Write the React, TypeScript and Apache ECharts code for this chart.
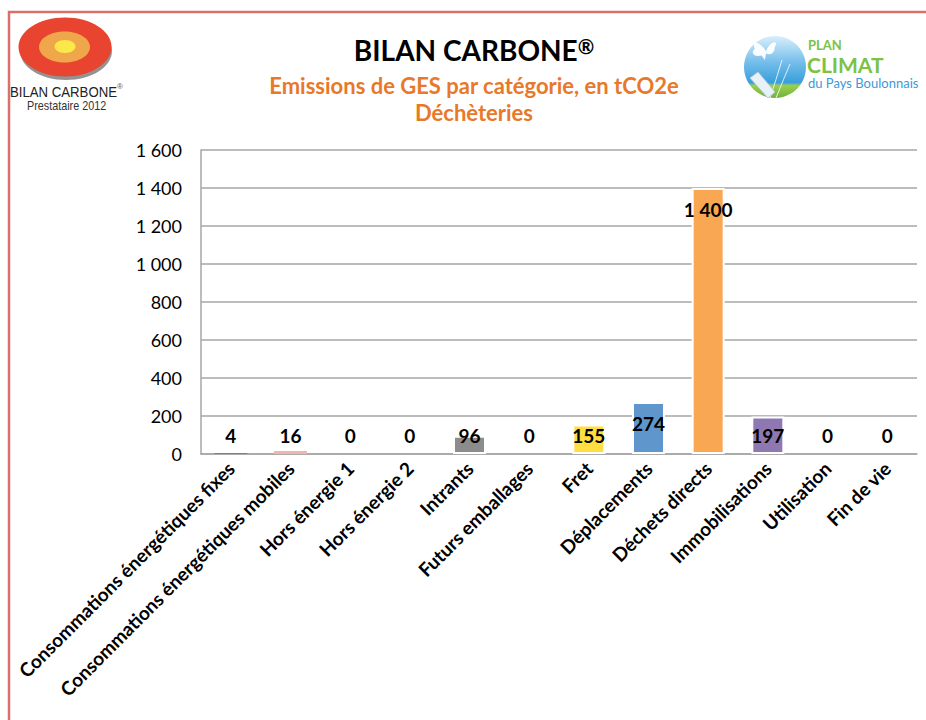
import React, { useEffect, useRef } from "react";
import * as echarts from "echarts";

const categories = [
  "Consommations énergétiques fixes",
  "Consommations énergétiques mobiles",
  "Hors énergie 1",
  "Hors énergie 2",
  "Intrants",
  "Futurs emballages",
  "Fret",
  "Déplacements",
  "Déchets directs",
  "Immobilisations",
  "Utilisation",
  "Fin de vie",
];
const values = [4, 16, 0, 0, 96, 0, 155, 274, 1400, 197, 0, 0];
const barColors = [
  "#c0504d", "#f2b5ad", "#9bbb59", "#4bacc6", "#8c8c8c", "#c6a77a",
  "#ffde40", "#5f96cc", "#f9a753", "#8f78b2", "#4f81bd", "#4f81bd",
];
const yTicks = { min: 0, max: 1600, interval: 200 };

const fmt = (v: number) => String(v).replace(/\B(?=(\d{3})+(?!\d))/g, " ");

echarts.graphic.registerShape(
  "butterfly",
  echarts.graphic.extendPath(
    "M10 12 C4 2 -4 2 0 10 C-4 12 -2 18 6 16 L9 20 L10 14 C14 16 18 14 18 8 C22 2 14 2 10 12 Z",
    {}
  )
);

export default function App() {
  const ref = useRef<HTMLDivElement>(null);
  useEffect(() => {
    if (!ref.current) return;
    const chart = echarts.init(ref.current, null, { renderer: "svg" });
    const data = values.map((v, i) => ({
      value: v,
      itemStyle: {
        color: barColors[i],
        borderColor: "#ffffff",
        borderWidth: v > 50 ? 2 : 0,
      },
      label:
        v >= 250
          ? { position: "insideTop", distance: 12 }
          : { position: "insideBottom", distance: 9 },
    }));
    chart.setOption({
      animation: false,
      backgroundColor: "#ffffff",
      grid: { left: 201, right: 9, top: 150, bottom: 266 },
      xAxis: {
        type: "category",
        data: categories,
        axisLine: { show: true, lineStyle: { color: "#a6a6a6", width: 1.5 } },
        axisTick: { show: false },
        axisLabel: {
          interval: 0,
          rotate: 45,
          margin: 11,
          color: "#000",
          fontFamily: "Lato",
          fontWeight: "bold",
          fontSize: 19,
        },
      },
      yAxis: {
        type: "value",
        min: yTicks.min,
        max: yTicks.max,
        interval: yTicks.interval,
        axisLine: { show: true, lineStyle: { color: "#a6a6a6", width: 1.5 } },
        axisTick: { show: false },
        splitLine: { lineStyle: { color: "#a6a6a6", width: 1.5 } },
        axisLabel: {
          color: "#000",
          fontFamily: "Lato",
          fontSize: 18,
          margin: 19,
          formatter: (v: number) => fmt(v),
        },
      },
      series: [
        {
          type: "bar",
          data,
          barWidth: 33,
          label: {
            show: true,
            color: "#000",
            fontFamily: "Lato",
            fontWeight: "bold",
            fontSize: 19,
            formatter: (p: any) => fmt(p.value),
          },
        },
      ],
      graphic: [
        {
          type: "rect",
          shape: { x: 9, y: 12, width: 1000, height: 1000 },
          style: { fill: "none", stroke: "#d9706b", lineWidth: 2.5 },
          silent: true,
        },
        // Bilan Carbone logo
        {
          type: "ellipse",
          shape: { cx: 66, cy: 51, rx: 46, ry: 29 },
          style: { fill: "#3a3a3a", opacity: 0.55 },
        },
        {
          type: "ellipse",
          shape: { cx: 65, cy: 47, rx: 46.5, ry: 29.5 },
          style: { fill: "#e8442f" },
        },
        {
          type: "ellipse",
          shape: { cx: 64.5, cy: 47, rx: 25.5, ry: 15.5 },
          style: { fill: "#f0a64a" },
        },
        {
          type: "ellipse",
          shape: { cx: 65, cy: 46.5, rx: 10.5, ry: 6.5 },
          style: { fill: "#fbe94a" },
        },
        {
          type: "text",
          x: 10,
          y: 92,
          scaleX: 0.88,
          style: {
            text: "BILAN CARBONE",
            font: "15px 'Liberation Sans'",
            fill: "#222",
            verticalAlign: "middle",
          },
        },
        {
          type: "text",
          x: 117,
          y: 86,
          style: { text: "®", font: "8px 'Liberation Sans'", fill: "#555", verticalAlign: "middle" },
        },
        {
          type: "text",
          x: 27,
          y: 106,
          scaleX: 0.9,
          style: {
            text: "Prestataire 2012",
            font: "12px 'Liberation Sans'",
            fill: "#333",
            verticalAlign: "middle",
          },
        },
        // Titles
        {
          type: "text",
          x: 474,
          y: 50,
          style: {
            text: "BILAN CARBONE{sup|®}",
            font: "bold 28px Lato",
            fill: "#000",
            align: "center",
            verticalAlign: "middle",
            rich: {
              sup: {
                font: "bold 20px Lato",
                fill: "#000",
                verticalAlign: "top",
                padding: [0, 0, 8, 0],
              },
            },
          },
        },
        {
          type: "text",
          x: 474,
          y: 85,
          style: {
            text: "Emissions de GES par catégorie, en tCO2e",
            font: "bold 22px Lato",
            fill: "#e8782a",
            align: "center",
            verticalAlign: "middle",
          },
        },
        {
          type: "text",
          x: 474,
          y: 112,
          style: {
            text: "Déchèteries",
            font: "bold 22px Lato",
            fill: "#e8782a",
            align: "center",
            verticalAlign: "middle",
          },
        },
        // Plan Climat logo
        {
          type: "circle",
          shape: { cx: 775, cy: 67, r: 31 },
          style: {
            fill: new echarts.graphic.LinearGradient(0, 0, 0, 1, [
              { offset: 0, color: "#d8effc" },
              { offset: 0.45, color: "#6fbbe9" },
              { offset: 0.75, color: "#3a9fdc" },
              { offset: 0.8, color: "#9ccf4e" },
              { offset: 1, color: "#6fb33a" },
            ]),
          },
        },
        {
          type: "butterfly",
          x: 755,
          y: 38,
          scaleX: 1.1,
          scaleY: 1.1,
          style: { fill: "#ffffff", opacity: 0.95 },
        },
        {
          type: "bezierCurve",
          shape: { x1: 770, y1: 98, x2: 782, y2: 60, cpx1: 776, cpy1: 80 },
          style: { stroke: "#ffffff", lineWidth: 1, fill: "none", opacity: 0.8 },
        },
        {
          type: "bezierCurve",
          shape: { x1: 776, y1: 98, x2: 790, y2: 64, cpx1: 784, cpy1: 78 },
          style: { stroke: "#ffffff", lineWidth: 1, fill: "none", opacity: 0.8 },
        },
        {
          type: "polygon",
          shape: { points: [[750, 78], [758, 72], [775, 92], [768, 98]] },
          style: { fill: "#e8f1f7", stroke: "#b8cbd8", lineWidth: 1 },
        },
        {
          type: "text",
          x: 808,
          y: 45,
          style: { text: "PLAN", font: "bold 13px Lato", fill: "#7dc242", verticalAlign: "middle" },
        },
        {
          type: "text",
          x: 807,
          y: 64.5,
          style: { text: "CLIMAT", font: "bold 21px Lato", fill: "#7dc242", verticalAlign: "middle" },
        },
        {
          type: "text",
          x: 808,
          y: 83,
          style: {
            text: "du Pays Boulonnais",
            font: "13px Lato",
            fill: "#3a9ad9",
            verticalAlign: "middle",
          },
        },
      ],
    });
    return () => chart.dispose();
  }, []);
  return (
    <div
      ref={ref}
      style={{ position: "fixed", left: 0, top: 0, width: 926, height: 720 }}
    />
  );
}
